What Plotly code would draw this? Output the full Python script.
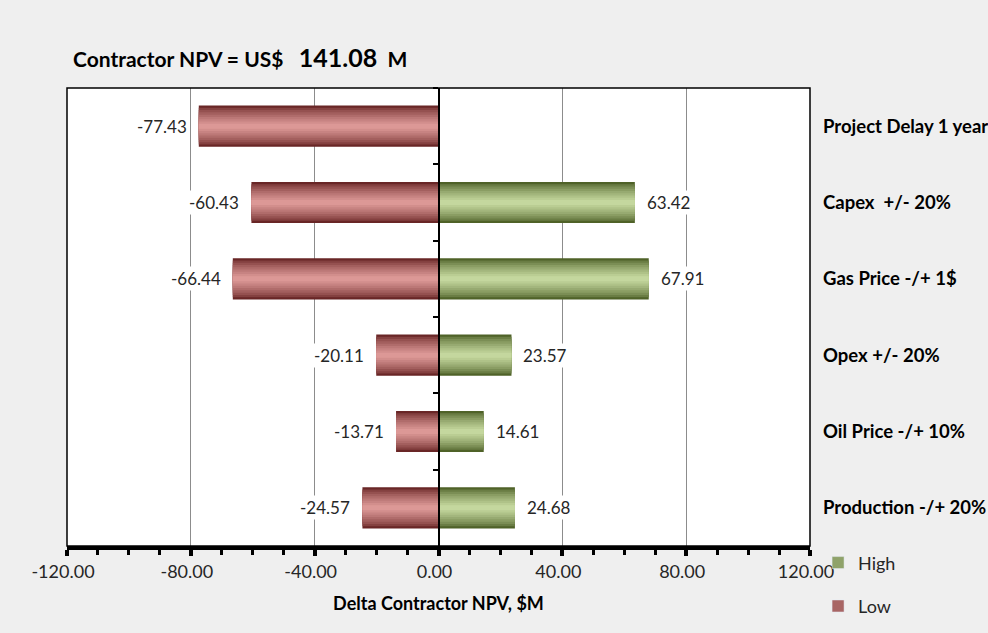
import plotly.graph_objects as go

categories = ["Project Delay 1 year", "Capex  +/- 20%", "Gas Price -/+ 1$",
              "Opex +/- 20%", "Oil Price -/+ 10%", "Production -/+ 20%"]
low_values = [-77.43, -60.43, -66.44, -20.11, -13.71, -24.57]
high_values = [None, 63.42, 67.91, 23.57, 14.61, 24.68]
base_npv = "141.08"
x_ticks = [-120, -80, -40, 0, 40, 80, 120]
x_tick_labels = [f"{v:.2f}" for v in x_ticks]

FONT = "Lato"
BAR_W = 0.54
N_LAYERS = 9


def lerp(c1, c2, t):
    return "rgb(%d,%d,%d)" % tuple(round(a + (b - a) * t) for a, b in zip(c1, c2))


low_dark, low_light = (105, 38, 38), (220, 152, 150)
high_dark, high_light = (79, 98, 40), (196, 215, 158)

fig = go.Figure()

# gradient bars (layered, dark edges -> light center)
for name, vals, dark, light, yax in [("Low", low_values, low_dark, low_light, "y"),
                                     ("High", high_values, high_dark, high_light, "y2")]:
    for i in range(N_LAYERS):
        t = i / (N_LAYERS - 1)
        w = BAR_W * (1 - 0.88 * t)
        col = lerp(dark, light, t ** 0.7)
        fig.add_trace(go.Bar(
            y=categories, x=vals, orientation="h", width=w,
            marker=dict(color=col, line=dict(width=0)),
            yaxis=yax, showlegend=False, hoverinfo="skip",
        ))
    fig.add_trace(go.Bar(
        y=[None], x=[None], orientation="h", name=name,
        marker=dict(color=lerp(dark, light, 0.55)),
        yaxis=yax, showlegend=True, legendgroup=name,
        legendrank=1 if name == "High" else 2,
    ))

# data labels
for cat, lv, hv in zip(categories, low_values, high_values):
    if lv is not None:
        fig.add_annotation(x=lv, y=cat, text=f"{lv:.2f}", showarrow=False,
                           xanchor="right", xshift=-10, bgcolor="white",
                           font=dict(family=FONT, size=17, color="#262626"))
    if hv is not None:
        fig.add_annotation(x=hv, y=cat, text=f"{hv:.2f}", showarrow=False,
                           xanchor="left", xshift=10, bgcolor="white",
                           font=dict(family=FONT, size=17, color="#262626"))

# title
fig.add_annotation(
    xref="paper", yref="paper", x=0.006, y=1.0, yshift=14, xanchor="left", yanchor="bottom",
    text=f"<b>Contractor NPV = US$   <span style='font-size:25px'>{base_npv}</span>  M</b>",
    showarrow=False, font=dict(family=FONT, size=21, color="black"))

# plot border
fig.add_shape(type="rect", xref="paper", yref="paper", x0=0, y0=0, x1=1, y1=1,
              line=dict(color="black", width=1.5), layer="above")

fig.update_layout(
    width=988, height=633,
    margin=dict(l=67, r=178, t=88, b=87),
    paper_bgcolor="#efefef", plot_bgcolor="white",
    barmode="overlay",
    font=dict(family=FONT, color="#262626"),
    xaxis=dict(
        range=[-120, 120], tickvals=x_ticks, ticktext=x_tick_labels,
        automargin=False,
        showgrid=True, gridcolor="#8c8c8c", gridwidth=1,
        zeroline=False,
        showline=True, linecolor="black", linewidth=4,
        ticks="outside", ticklen=6, tickwidth=4, tickcolor="black",
        minor=dict(dtick=10, ticks="outside", ticklen=5, tickwidth=3, tickcolor="black", showgrid=False),
        tickfont=dict(family=FONT, size=18, color="#262626"),
        ticklabelstandoff=0, ticklabelshift=-4,
        title=dict(text="<b>Delta Contractor NPV, $M</b>", standoff=18,
                   font=dict(family=FONT, size=18, color="black")),
    ),
    yaxis=dict(
        type="category", categoryarray=categories, range=[5.5, -0.5],
        automargin=False,
        side="right", showgrid=False, zeroline=False, showline=False,
        ticks="", ticklabelstandoff=12,
        tickfont=dict(family=FONT, size=18.5, color="black", weight="bold"),
    ),
    yaxis2=dict(
        type="category", categoryarray=categories, range=[5.5, -0.5],
        automargin=False,
        overlaying="y", anchor="free", position=0.5, side="left",
        showline=True, linecolor="black", linewidth=2,
        ticks="outside", tickson="boundaries", ticklen=5, tickwidth=2, tickcolor="black",
        showticklabels=False, showgrid=False, zeroline=False,
    ),
    legend=dict(
        xref="container", yref="container",
        x=0.828, y=0.14, xanchor="left", yanchor="top",
        bgcolor="rgba(0,0,0,0)", tracegroupgap=17,
        font=dict(family=FONT, size=18, color="#262626"),
        itemwidth=30,
    ),
    showlegend=True,
)

fig.write_html("out.html")
